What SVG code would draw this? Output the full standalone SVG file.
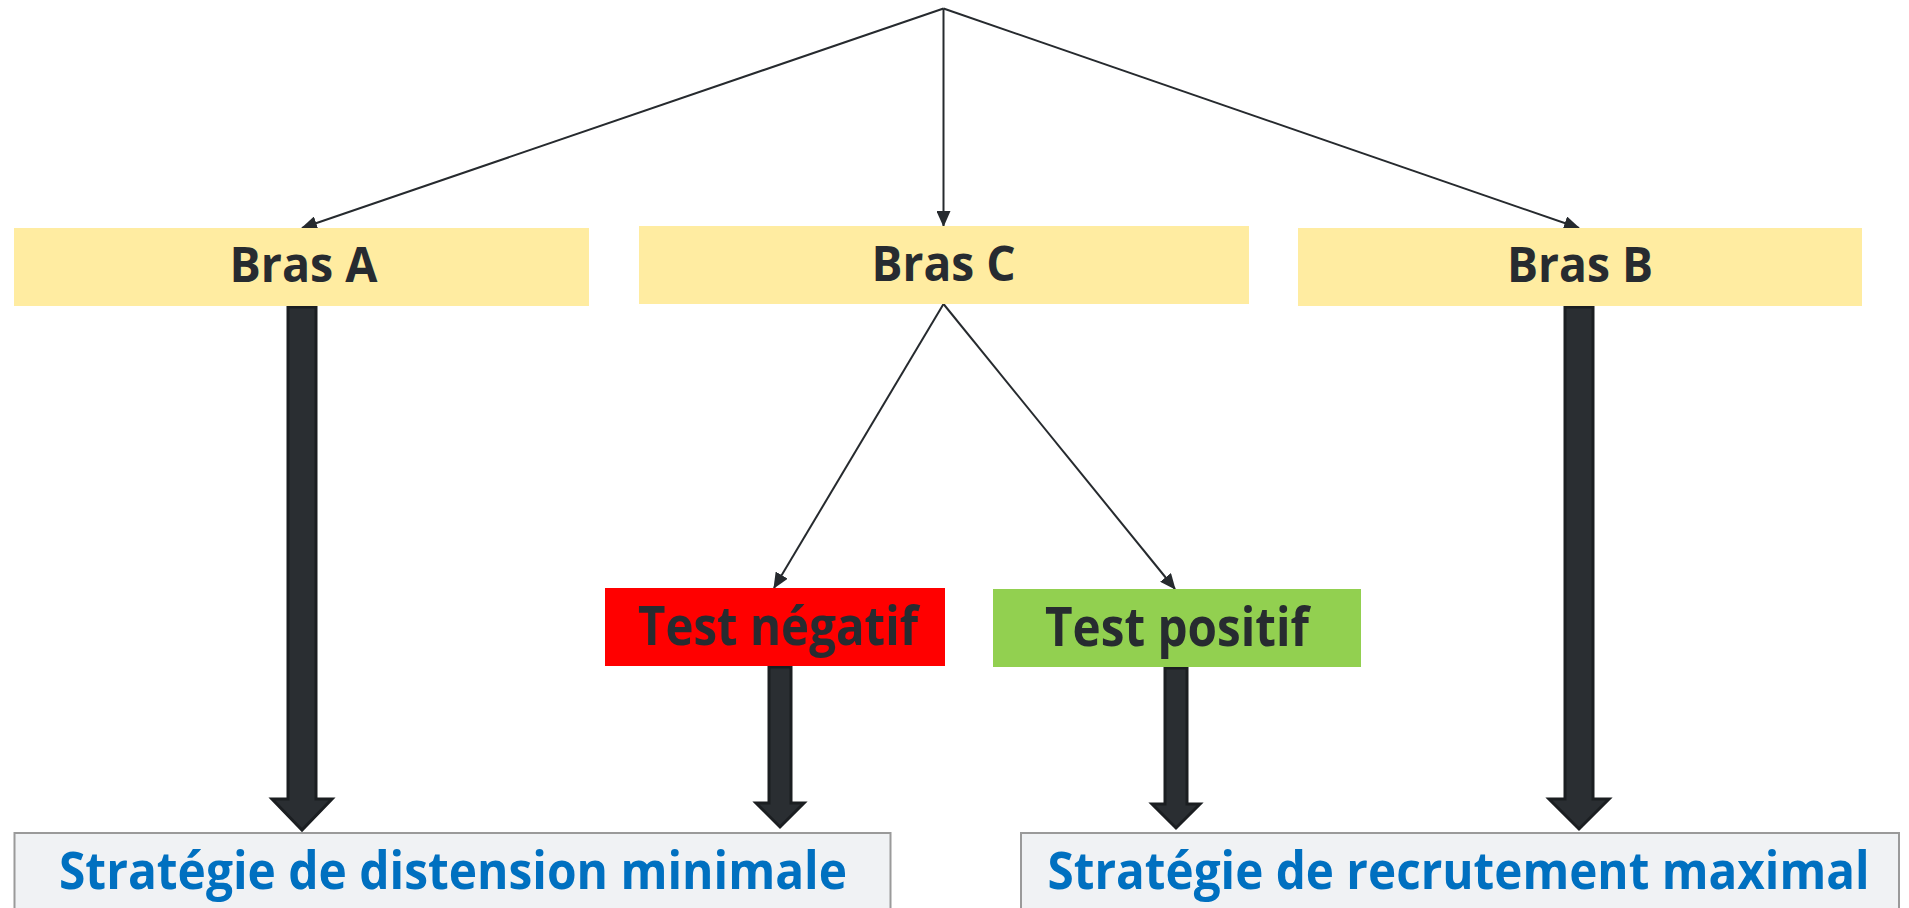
<svg xmlns="http://www.w3.org/2000/svg" width="1909" height="908" viewBox="0 0 1909 908">
<style>
.bras{fill:#ffeca1}
.lbl{font-family:"Open Sans","Noto Sans","Liberation Sans",sans-serif;font-weight:bold;text-anchor:middle}
.dark{fill:#272b30}
.blue{fill:#0070c0}
.strat{fill:#f0f2f4;stroke:#9a9a9a;stroke-width:2}
.thin{fill:none;stroke:#262a2e;stroke-width:2;marker-end:url(#ah)}
.fat{fill:#2a2e32;stroke:#1b1e21;stroke-width:3;stroke-linejoin:miter}
</style>
<defs>
<marker id="ah" markerWidth="16" markerHeight="14" refX="15" refY="7" orient="auto" markerUnits="userSpaceOnUse">
<path d="M0,0 L16,7 L0,14 Z" fill="#262a2e"/>
</marker>
</defs>
<rect width="1909" height="908" fill="#ffffff"/>
<g id="connectors">
<line class="thin" x1="943.5" y1="8.5" x2="302" y2="228"/>
<line class="thin" x1="943.5" y1="8.5" x2="943.5" y2="226"/>
<line class="thin" x1="943.5" y1="8.5" x2="1579" y2="228"/>
<line class="thin" x1="943.5" y1="304" x2="774" y2="588"/>
<line class="thin" x1="943.5" y1="304" x2="1175" y2="589"/>
<path class="fat" d="M288,307 L316,307 L316,799 L332,799 L302,830 L272,799 L288,799 Z"/>
<path class="fat" d="M769,667 L791,667 L791,803 L804,803 L780,827 L756,803 L769,803 Z"/>
<path class="fat" d="M1165,668 L1187,668 L1187,804 L1200,804 L1176,828 L1152,804 L1165,804 Z"/>
<path class="fat" d="M1565,307 L1593,307 L1593,799 L1609,799 L1579,829 L1549,799 L1565,799 Z"/>
</g>
<g id="brasA">
<rect class="bras" x="14" y="228" width="575" height="78"/>
<text class="lbl dark" x="303.5" y="282" font-size="48" textLength="148" lengthAdjust="spacingAndGlyphs">Bras A</text>
</g>
<g id="brasC">
<rect class="bras" x="639" y="226" width="610" height="78"/>
<text class="lbl dark" x="943.5" y="281" font-size="48" textLength="144" lengthAdjust="spacingAndGlyphs">Bras C</text>
</g>
<g id="brasB">
<rect class="bras" x="1298" y="228" width="564" height="78"/>
<text class="lbl dark" x="1580" y="282" font-size="48" textLength="146" lengthAdjust="spacingAndGlyphs">Bras B</text>
</g>
<g id="testNeg">
<rect x="605" y="588" width="340" height="78" fill="#ff0000"/>
<text class="lbl dark" x="778" y="645" font-size="54" textLength="280" lengthAdjust="spacingAndGlyphs">Test négatif</text>
</g>
<g id="testPos">
<rect x="993" y="589" width="368" height="78" fill="#92d050"/>
<text class="lbl dark" x="1177" y="646" font-size="54" textLength="264" lengthAdjust="spacingAndGlyphs">Test positif</text>
</g>
<g id="stratMin">
<rect class="strat" x="14.5" y="833" width="876" height="100"/>
<text class="lbl blue" x="453" y="889" font-size="52" textLength="788" lengthAdjust="spacingAndGlyphs">Stratégie de distension minimale</text>
</g>
<g id="stratMax">
<rect class="strat" x="1021" y="833" width="878" height="100"/>
<text class="lbl blue" x="1458.5" y="889" font-size="52" textLength="822" lengthAdjust="spacingAndGlyphs">Stratégie de recrutement maximal</text>
</g>
</svg>
